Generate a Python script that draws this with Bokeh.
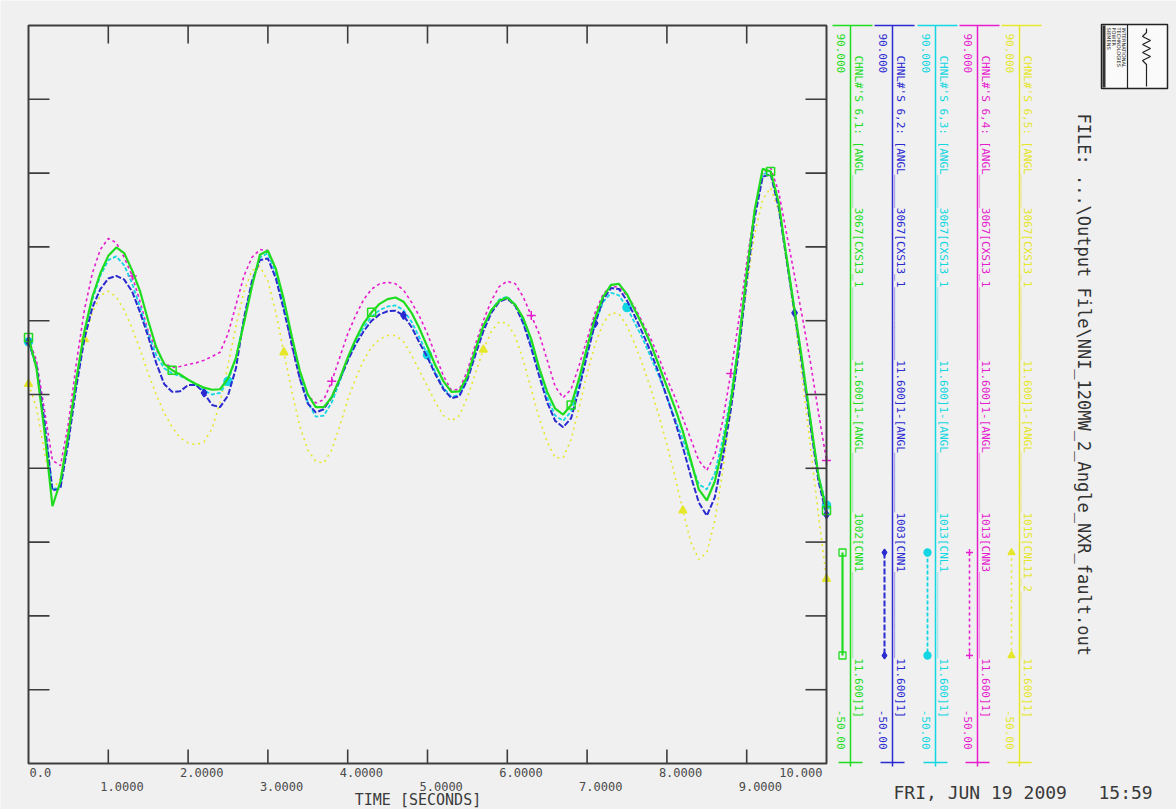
import math
from bokeh.plotting import figure
from bokeh.models import Range1d
from bokeh.core.properties import value
from bokeh.embed import file_html
from bokeh.resources import INLINE

# ---------------- data ----------------
TIME = [i / 10 for i in range(101)]

GREEN = [30.8, 25.0, 13.0, -1.2, 3.5, 12.5, 23.0, 32.0, 38.5, 43.0,
         46.3, 47.9, 46.8, 43.5, 39.5, 34.0, 29.0, 25.8, 24.6, 23.8,
         22.8, 22.0, 21.3, 20.9, 21.0, 23.0, 27.0, 33.5, 40.5, 46.5,
         47.3, 43.8, 38.0, 31.0, 24.5, 20.0, 17.6, 17.6, 19.5, 23.0,
         27.0, 30.5, 33.5, 35.6, 37.2, 38.1, 38.4, 37.6, 35.5, 32.5,
         29.0, 25.5, 22.5, 20.5, 20.6, 23.5, 28.5, 33.0, 36.0, 37.8,
         38.4, 37.0, 34.5, 30.5, 25.0, 20.5, 17.3, 16.2, 18.0, 23.0,
         29.0, 34.5, 38.5, 40.8, 41.0, 39.0, 36.0, 33.0, 29.5, 25.5,
         21.5, 17.5, 13.0, 7.5, 2.0, -0.1, 3.5, 10.0, 18.5, 29.5,
         43.0, 55.0, 62.8, 62.3, 56.5, 46.0, 36.0, 26.0, 15.0, 4.5, -2.0]

BLUE = [30.0, 25.5, 15.0, 1.8, 2.2, 11.0, 21.5, 30.5, 36.5, 40.0,
        42.0, 42.5, 41.8, 39.5, 35.5, 31.0, 26.0, 22.0, 20.5, 20.6,
        21.8, 21.8, 20.3, 18.0, 17.6, 19.8, 25.0, 34.5, 41.5, 45.5,
        45.8, 42.0, 36.0, 29.5, 23.0, 18.3, 16.6, 17.2, 19.5, 22.8,
        26.4, 29.5, 32.0, 34.0, 35.2, 35.8, 35.9, 35.0, 32.8, 29.8,
        27.0, 23.8, 21.0, 19.3, 19.7, 22.8, 27.5, 32.0, 35.5, 37.6,
        38.2, 36.8, 33.5, 28.8, 23.5, 18.5, 15.0, 13.8, 15.5, 21.0,
        27.5, 33.5, 38.0, 40.2, 40.0, 37.8, 34.8, 31.5, 28.0, 24.0,
        19.5, 15.0, 10.0, 4.5, -0.5, -3.0, 0.5, 8.0, 17.0, 28.0,
        41.5, 53.5, 61.3, 61.8, 55.5, 45.5, 35.5, 25.0, 14.0, 3.5, -2.8]

CYAN = [30.0, 25.0, 14.0, 2.0, 2.5, 12.0, 22.5, 31.5, 38.0, 42.5,
        45.5, 46.2, 44.5, 41.0, 36.5, 31.5, 27.5, 25.0, 24.0, 23.5,
        22.8, 21.8, 20.8, 20.0, 20.3, 22.5, 27.0, 34.0, 41.0, 46.0,
        46.8, 43.0, 37.0, 30.0, 23.5, 18.5, 15.8, 16.0, 18.5, 22.5,
        26.5, 30.0, 32.8, 34.8, 36.0, 36.7, 36.9, 36.0, 33.8, 30.8,
        27.5, 24.2, 21.3, 19.5, 20.0, 23.0, 28.0, 32.5, 36.0, 38.0,
        38.6, 37.0, 33.8, 29.5, 24.5, 19.5, 16.0, 15.0, 16.8, 22.0,
        28.0, 33.5, 37.5, 39.3, 38.8, 36.5, 33.5, 30.5, 27.0, 23.5,
        19.5, 15.5, 11.5, 7.0, 3.0, 2.0, 5.0, 11.5, 19.5, 30.0,
        43.0, 54.5, 61.8, 62.3, 56.0, 46.0, 36.0, 25.5, 15.0, 4.5, -1.0]

MAGENTA = [30.5, 26.5, 17.0, 7.5, 6.5, 14.5, 26.0, 36.0, 43.0, 47.5,
           49.6, 48.8, 46.0, 42.5, 37.5, 32.0, 28.5, 26.0, 25.1, 25.3,
           25.7, 26.0, 26.5, 27.2, 28.0, 31.5, 37.0, 42.5, 46.0, 47.5,
           47.3, 43.0, 37.0, 29.0, 23.0, 19.8, 18.4, 19.0, 22.5, 27.0,
           31.5, 35.0, 38.0, 40.0, 41.0, 41.3, 41.0, 39.8, 37.5, 34.8,
           31.5, 27.5, 23.5, 20.8, 21.0, 24.5, 29.5, 34.0, 37.8, 40.5,
           41.5, 41.0, 38.5, 35.0, 31.5, 26.5, 21.5, 19.4, 21.0, 25.5,
           30.5, 35.5, 39.0, 40.6, 40.3, 38.8, 36.5, 33.5, 30.5, 27.0,
           23.0, 19.5, 15.5, 11.5, 7.5, 5.6, 8.5, 15.0, 24.0, 34.0,
           45.0, 55.0, 62.0, 63.0, 58.5, 50.5, 42.5, 34.5, 26.0, 16.5, 7.5]

YELLOW = [22.0, 17.5, 9.0, 2.0, 4.0, 13.0, 22.5, 30.5, 35.5, 38.8,
          39.6, 38.5, 36.0, 32.5, 28.5, 24.0, 20.0, 16.5, 13.8, 11.8,
          10.8, 10.5, 11.0, 13.5, 18.5, 25.5, 33.0, 39.5, 43.5, 44.3,
          41.5, 35.5, 28.0, 20.5, 14.0, 9.5, 7.3, 7.0, 9.5, 14.0,
          19.0, 23.0, 26.5, 29.0, 30.5, 31.2, 31.2, 30.0, 27.5, 24.5,
          21.5, 18.5, 16.0, 15.0, 16.0, 19.5, 24.0, 28.5, 32.0, 33.8,
          33.5, 31.0, 26.5, 21.0, 15.5, 11.0, 8.0, 8.0, 11.5, 17.5,
          24.0, 29.5, 33.5, 35.5, 35.3, 33.0, 29.5, 25.5, 21.0, 16.0,
          10.5, 4.5, -2.0, -8.0, -11.3, -10.0, -4.0, 5.5, 17.0, 29.0,
          40.5, 50.5, 57.0, 59.2, 55.0, 45.5, 34.5, 22.5, 10.0, -3.0, -15.0]

# times at which each channel shows its plot symbol
GREEN_MK = [0.0, 1.8, 4.3, 6.8, 9.3, 10.0]
BLUE_MK = [0.0, 2.2, 4.7, 7.1, 9.6, 10.0]
CYAN_MK = [0.0, 2.5, 5.0, 7.5, 10.0]
MAGENTA_MK = [0.0, 1.3, 3.8, 6.3, 8.8, 10.0]
YELLOW_MK = [0.0, 0.7, 3.2, 5.7, 8.2, 10.0]

X_TICKS = [0, 1, 2, 3, 4, 5, 6, 7, 8, 9, 10]
X_TICK_LABELS = ["0.0", "1.0000", "2.0000", "3.0000", "4.0000", "5.0000",
                 "6.0000", "7.0000", "8.0000", "9.0000", "10.000"]
Y_TICKS = [90, 76, 62, 48, 34, 20, 6, -8, -22, -36, -50]
T_MIN, T_MAX = 0, 10
Y_MIN, Y_MAX = -50, 90
SCALE_TOP = "90.000"
SCALE_BOTTOM = "-50.00"

LEGEND_TITLES = [
    "CHNL#'S 6,1: [ANGL_____3067[CXS13_1___________11.600]1-[ANGL_________1002[CNN1_____________11.600]1]",
    "CHNL#'S 6,2: [ANGL_____3067[CXS13_1___________11.600]1-[ANGL_________1003[CNN1_____________11.600]1]",
    "CHNL#'S 6,3: [ANGL_____3067[CXS13_1___________11.600]1-[ANGL_________1013[CNL1_____________11.600]1]",
    "CHNL#'S 6,4: [ANGL_____3067[CXS13_1___________11.600]1-[ANGL_________1013[CNN3_____________11.600]1]",
    "CHNL#'S 6,5: [ANGL_____3067[CXS13_1___________11.600]1-[ANGL_________1015[CNL11_2__________11.600]1]",
]
X_LABEL = "TIME  [SECONDS]"
FILE_TEXT = "FILE: ...\\Output File\\NNI_120MW_2_Angle_NXR_fault.out"
DATE_TEXT = "FRI, JUN 19 2009"
TIME_TEXT = "15:59"
LOGO_TEXTS = ["SIEMENS", "POWER", "TECHNOLOGIES", "INTERNATIONAL"]

# ---------------- style / layout ----------------
BG = "#f0f0f0"
FRAME = "#3c3c3c"
MONO = "DejaVu Sans Mono"
C_GREEN = "#1fdc1f"
C_BLUE = "#2a2ad0"
C_CYAN = "#12d6e2"
C_MAGENTA = "#e61ccf"
C_YELLOW = "#e6e62a"

W, H = 1176, 809
PL, PR, PT, PB = 28, 826, 25, 763          # plot frame in canvas pixels
sx = (PR - PL) / (T_MAX - T_MIN)
sy = (PB - PT) / (Y_MAX - Y_MIN)

p = figure(width=W, height=H,
           x_range=Range1d(T_MIN - PL / sx, T_MAX + (W - PR) / sx),
           y_range=Range1d(Y_MIN - (H - PB) / sy, Y_MAX + PT / sy),
           output_backend="svg", toolbar_location=None,
           x_axis_location=None, y_axis_location=None,
           min_border=0, min_border_left=0, min_border_right=0,
           min_border_top=0, min_border_bottom=0,
           background_fill_color=BG, border_fill_color=BG,
           outline_line_color=None)
p.grid.visible = False
p.extra_x_ranges = {"px": Range1d(0, W)}
p.extra_y_ranges = {"px": Range1d(H, 0)}
PX = dict(x_range_name="px", y_range_name="px")

# ---------------- curves ----------------
series = [
    (YELLOW, YELLOW_MK, C_YELLOW, 1.6, "2 4", "triangle", True),
    (MAGENTA, MAGENTA_MK, C_MAGENTA, 1.6, "3 3", "cross", False),
    (CYAN, CYAN_MK, C_CYAN, 1.8, "4 2", "circle", True),
    (BLUE, BLUE_MK, C_BLUE, 2.0, "6 2", "diamond", True),
    (GREEN, GREEN_MK, C_GREEN, 2.2, "solid", "square", False),
]
for vals, mk, col, lw, dash, marker, filled in series:
    p.line(TIME, vals, line_color=col, line_width=lw, line_dash=dash)
    my = [vals[int(round(t * 10))] for t in mk]
    p.scatter(mk, my, marker=marker, size=8 if marker != "cross" else 9,
              line_color=col, line_width=1.5,
              fill_color=col if filled else None)

# ---------------- frame & ticks ----------------
p.quad(left=[T_MIN], right=[T_MAX], bottom=[Y_MIN], top=[Y_MAX],
       fill_color=None, line_color=FRAME, line_width=2)
inner_y = Y_TICKS[1:-1]
inner_x = X_TICKS[1:-1]
p.ray(x=[T_MIN] * len(inner_y), y=inner_y, length=21, length_units="screen",
      angle=0, line_color=FRAME, line_width=1.6)
p.ray(x=[T_MAX] * len(inner_y), y=inner_y, length=21, length_units="screen",
      angle=math.pi, line_color=FRAME, line_width=1.6)
p.ray(x=inner_x, y=[Y_MAX] * len(inner_x), length=18, length_units="screen",
      angle=-math.pi / 2, line_color=FRAME, line_width=1.6)
p.ray(x=inner_x, y=[Y_MIN] * len(inner_x), length=14, length_units="screen",
      angle=math.pi / 2, line_color=FRAME, line_width=1.6)

# ---------------- x tick labels (two staggered rows) ----------------
ROW1, ROW2 = 772, 786
even_x = [X_TICKS[i] for i in range(0, len(X_TICKS) - 1, 2)]
even_l = [X_TICK_LABELS[i] for i in range(0, len(X_TICKS) - 1, 2)]
odd_x = [X_TICKS[i] for i in range(1, len(X_TICKS), 2)]
odd_l = [X_TICK_LABELS[i] for i in range(1, len(X_TICKS), 2)]
lab_style = dict(text_font=value(MONO), text_font_size="12px", text_color="#4a4a4a",
                 text_baseline="middle", y_range_name="px")
p.text(x=even_x[:1], y=[ROW1], text=even_l[:1], text_align="left", x_offset=1, **lab_style)
p.text(x=even_x[1:], y=[ROW1] * (len(even_x) - 1), text=even_l[1:],
       text_align="left", x_offset=-8, **lab_style)
p.text(x=odd_x, y=[ROW2] * len(odd_x), text=odd_l, text_align="left", x_offset=-8, **lab_style)
p.text(x=[X_TICKS[-1]], y=[ROW1], text=[X_TICK_LABELS[-1]], text_align="right",
       x_offset=-4, **lab_style)

p.text(x=[(PL + PR) / 2 - 5], y=[799], text=[X_LABEL], text_align="center",
       text_baseline="middle", text_font=value(MONO), text_font_size="15px",
       text_color="#3a3a3a", **PX)

# ---------------- channel legend columns ----------------
LEG_X = [850, 892, 935, 977, 1019]
leg_cols = [C_GREEN, C_BLUE, C_CYAN, C_MAGENTA, C_YELLOW]
leg_series = [series[4], series[3], series[2], series[1], series[0]]
for xl, col, title, s in zip(LEG_X, leg_cols, LEGEND_TITLES, leg_series):
    _, _, _, lw, dash, marker, filled = s
    p.segment(x0=[xl, xl - 18, xl - 12], y0=[PT, PT, PB - 1],
              x1=[xl, xl + 22, xl + 12], y1=[PB + 3, PT, PB - 1],
              line_color=col, line_width=1.5, **PX)
    rot = dict(angle=-math.pi / 2, text_font=value(MONO), text_color=col,
               text_baseline="middle", **PX)
    p.text(x=[xl - 10], y=[PT + 8], text=[SCALE_TOP], text_align="left",
           text_font_size="11px", **rot)
    p.text(x=[xl - 10], y=[PB - 14], text=[SCALE_BOTTOM], text_align="right",
           text_font_size="11px", **rot)
    p.text(x=[xl + 8], y=[PT + 30], text=[title], text_align="left",
           text_font_size="11px", **rot)
    p.line(x=[xl - 8, xl - 8], y=[552, 655], line_color=col, line_width=lw,
           line_dash=dash, **PX)
    p.scatter(x=[xl - 8, xl - 8], y=[552, 655], marker=marker, size=7,
              line_color=col, line_width=1.3, fill_color=col if filled else None, **PX)

# ---------------- file name, date, logo ----------------
p.text(x=[1083], y=[113], text=[FILE_TEXT], angle=-math.pi / 2, text_align="left",
       text_baseline="middle", text_font=value(MONO), text_font_size="17px",
       text_color="#333333", **PX)
p.text(x=[893], y=[792], text=[DATE_TEXT], text_align="left", text_baseline="middle",
       text_font=value(MONO), text_font_size="18px", text_color="#3a3a3a", **PX)
p.text(x=[1098], y=[792], text=[TIME_TEXT], text_align="left", text_baseline="middle",
       text_font=value(MONO), text_font_size="18px", text_color="#3a3a3a", **PX)

LOGO_BOX = (1101, 1167, 24, 88)
p.quad(left=[LOGO_BOX[0]], right=[LOGO_BOX[1]], top=[LOGO_BOX[2]], bottom=[LOGO_BOX[3]],
       fill_color="#fafafa", line_color="#222222", line_width=1.5, **PX)
p.segment(x0=[1127], y0=[24], x1=[1127], y1=[88], line_color="#222222", line_width=1.2, **PX)
p.quad(left=[1102], right=[1105], top=[25], bottom=[87], fill_color="#333333",
       line_color=None, **PX)
p.text(x=[1108, 1113, 1118, 1123], y=[27, 27, 27, 27], text=LOGO_TEXTS,
       angle=-math.pi / 2, text_align="left", text_baseline="middle",
       text_font=value("DejaVu Sans"), text_font_size="5px", text_color="#222222", **PX)
ZIG_X = [1146, 1146, 1142, 1150, 1142, 1150, 1142, 1150, 1142, 1146, 1146]
ZIG_Y = [28, 32, 36, 40, 44, 48, 52, 56, 60, 64, 86]
p.line(x=ZIG_X, y=ZIG_Y, line_color="#222222", line_width=1.2, **PX)

open("out.html", "w").write(file_html(p, INLINE))
